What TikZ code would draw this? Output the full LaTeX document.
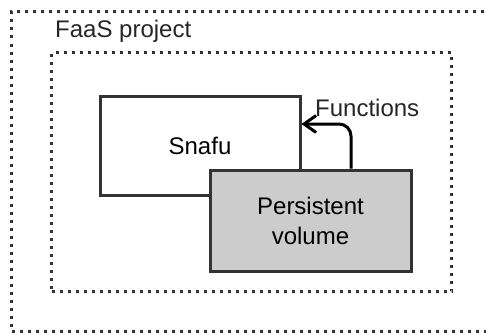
\documentclass[tikz,border=0pt]{standalone}
\usepackage{fontspec}
\setmainfont{Liberation Sans}
\usetikzlibrary{arrows.meta}
\definecolor{edge}{HTML}{333333}
\definecolor{pvfill}{HTML}{CCCCCC}
\tikzset{
  container/.style={draw=edge, line width=3pt, dash pattern=on 3pt off 5pt, minimum width=#1, inner sep=0pt, anchor=north west},
  boxnode/.style={draw=edge, line width=3pt, inner sep=0pt, font=\fontsize{24}{30}\selectfont, align=center},
  lbl/.style={inner sep=0pt, anchor=base west, font=\fontsize{24}{28}\selectfont, text=black!85},
  flow/.style={draw=black, line width=3pt, rounded corners=12pt, -{Straight Barb[length=12pt,width=17pt,line width=3pt]}}
}
\begin{document}
\begin{tikzpicture}[x=1pt,y=-1pt]
\useasboundingbox (0,0) rectangle (486,332);
\fill[white] (0,0) rectangle (486,332);
\clip (0,0) rectangle (486,332);
\node[container=520pt, minimum height=320pt] (outer) at (10,10) {};
\node[container=400pt, minimum height=239pt] (inner) at (50,51) {};
\node[lbl] (faas) at (55,37.5) {FaaS project};
\node[boxnode, fill=white, minimum width=200pt, minimum height=99pt] (snafu) at (200,145.5) {Snafu};
\node[boxnode, fill=pvfill, minimum width=201pt, minimum height=101pt] (pv) at (310.5,220.5) {Persistent\\volume};
\node[lbl] (fn) at (315,116) {Functions};
\draw[flow] ([xshift=40.5pt]pv.north) |- ([yshift=21.5pt]snafu.east);
\end{tikzpicture}
\end{document}
